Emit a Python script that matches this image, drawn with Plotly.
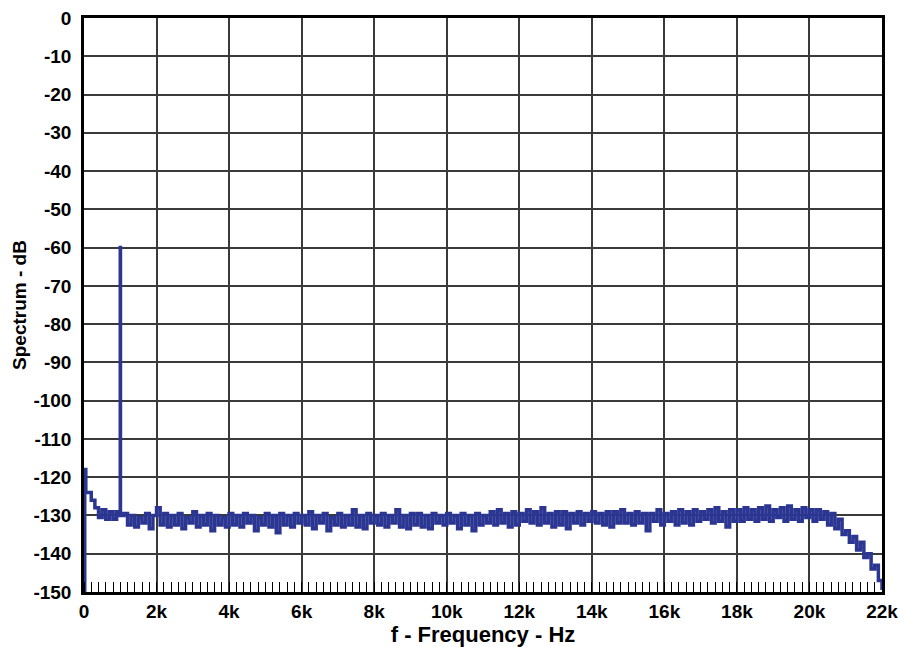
import plotly.graph_objects as go

# Start of spectrum (near DC)
start_freq = [0, 20, 50]
start_db = [-150, -118, -124]

# Noise floor, 100 Hz bins from 100 Hz to 22 kHz
noise_step = 100
noise_db = [
    -124, -126, -128, -130.5, -128.5, -131, -129, -131, -129, -130,
    -129.5, -132.5, -130, -133, -130.5, -132, -129.5, -133.5, -130, -128,
    -132.5, -129.5, -133, -130, -132.5, -129.5, -133.5, -130.5, -132, -129,
    -133, -130, -132.5, -129.5, -134, -130, -132.5, -130.5, -133, -129.5,
    -132.5, -130, -133, -129.5, -132, -130, -134, -130.5, -132.5, -129.5,
    -133, -130, -134.5, -129.5, -132.5, -130, -133, -129.5, -132, -130,
    -132.5, -129, -133.5, -130, -132, -129.5, -134, -130.5, -132.5, -129.5,
    -133, -130, -132.5, -128.5, -133, -130, -133.5, -129.5, -132, -130,
    -132.5, -129.5, -133, -130, -132, -128.5, -133, -130, -133.5, -129.5,
    -132.5, -129.5, -133, -130, -133.5, -129.5, -132, -130, -132.5, -129.5,
    -132, -130, -133.5, -129.5, -132.5, -130, -134, -129.5, -132.5, -130,
    -132, -129, -132.5, -128.5, -132, -129.5, -133, -129, -132.5, -129.5,
    -131.5, -128.5, -132, -129, -132.5, -128, -132, -129.5, -133, -129,
    -132.5, -129, -133.5, -129.5, -132, -129, -132.5, -129.5, -131.5, -129,
    -132, -129.5, -132.5, -129, -133, -129, -132, -128.5, -132, -129.5,
    -132.5, -129, -132, -129.5, -134, -129.5, -131.5, -128.5, -132.5, -129.5,
    -131.5, -129, -132.5, -128.5, -132, -129, -132.5, -128.5, -131.5, -129,
    -131, -128.5, -132, -128, -131.5, -129, -133, -128.5, -131.5, -128.5,
    -131.5, -128, -131, -128.5, -131.5, -128, -131, -127.5, -131.5, -128.5,
    -130.5, -128, -131.5, -127.5, -131, -128.5, -131.5, -128, -130.5, -128.5,
    -131.5, -128.5, -131, -129, -132.5, -129.5, -133.5, -131, -135, -134,
    -137, -135.5, -139, -137, -141, -140, -144, -143, -147, -149.5,
]

# Test tone
tone_freq = 1000
tone_db = -60

# Axis labels
y_vals = list(range(0, -151, -10))
y_text = [str(v) for v in y_vals]
x_vals = list(range(0, 22001, 2000))
x_text = ["0"] + [f"{v // 1000}k" for v in x_vals[1:]]

freqs = list(start_freq)
dbs = list(start_db)
for i, v in enumerate(noise_db):
    f = (i + 1) * noise_step
    if f == tone_freq:
        freqs += [f - 5, f, f + 5]
        dbs += [v, tone_db, v]
    else:
        freqs.append(f)
        dbs.append(v)

fig = go.Figure()
fig.add_trace(go.Scatter(
    x=freqs, y=dbs, mode="lines", line_shape="hv",
    line=dict(color="#2b3592", width=3.5), hoverinfo="skip",
))

font_family = "Liberation Sans, Arial, sans-serif"
fig.update_layout(
    width=899, height=647,
    margin=dict(l=84, r=17, t=18, b=55),
    paper_bgcolor="white", plot_bgcolor="white",
    showlegend=False,
    font=dict(family=font_family, size=19, color="black", weight="bold"),
)
fig.update_xaxes(
    range=[0, 22000], tickvals=x_vals, ticktext=x_text, automargin=False,
    showgrid=True, gridcolor="#3a3a3a", gridwidth=1.5,
    showline=True, linecolor="black", linewidth=2.5, mirror=True,
    ticks="", zeroline=False,
    tickfont=dict(family=font_family, size=19, color="black", weight="bold"),
    minor=dict(dtick=200, tick0=0, ticks="inside", ticklen=10, tickwidth=1,
               tickcolor="black", showgrid=False),
    title=dict(text="f - Frequency - Hz", standoff=2,
               font=dict(family=font_family, size=22, color="black", weight="bold")),
)
fig.update_yaxes(
    range=[-150, 0], tickvals=y_vals, ticktext=y_text, automargin=False,
    showgrid=True, gridcolor="#3a3a3a", gridwidth=1.5,
    showline=True, linecolor="black", linewidth=2.5, mirror=True,
    ticks="", zeroline=False, ticklabelstandoff=6,
    tickfont=dict(family=font_family, size=19, color="black", weight="bold"),
    title=dict(text="Spectrum - dB", standoff=2,
               font=dict(family=font_family, size=19, color="black", weight="bold")),
)

fig.write_html("out.html")
